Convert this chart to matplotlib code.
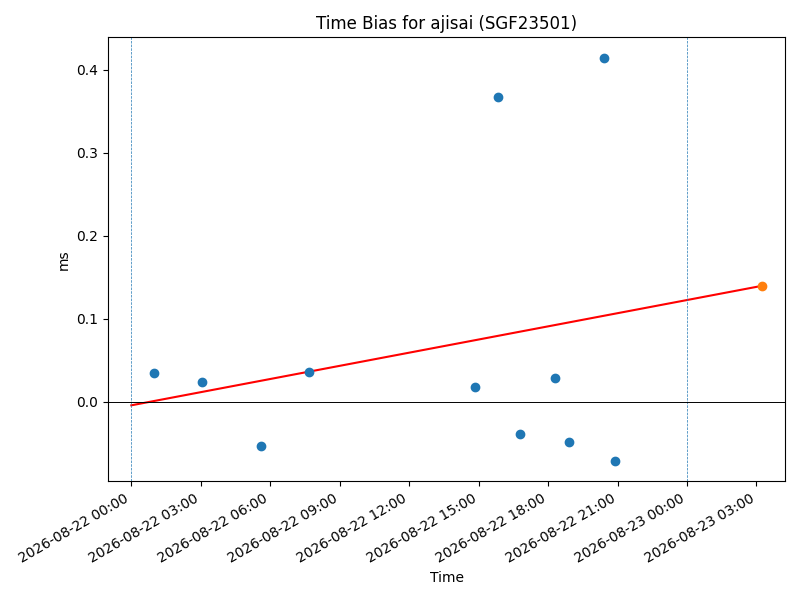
import matplotlib
matplotlib.use("Agg")
import matplotlib.pyplot as plt
import matplotlib.dates as mdates
import numpy as np
from datetime import datetime, timedelta

# Observed time bias samples (ms)
obs_times = [
    "2026-08-22 01:00", "2026-08-22 03:02", "2026-08-22 05:37", "2026-08-22 07:41",
    "2026-08-22 14:50", "2026-08-22 15:50", "2026-08-22 16:47", "2026-08-22 18:17",
    "2026-08-22 18:54", "2026-08-22 20:25", "2026-08-22 20:53",
]
obs_bias = [0.035, 0.024, -0.054, 0.036, 0.017, 0.367, -0.0385, 0.029, -0.049, 0.415, -0.072]

# Linear fit end points and the predicted value
fit_times = ["2026-08-22 00:00", "2026-08-23 03:14"]
fit_bias = [-0.0045, 0.1396]
pred_time = "2026-08-23 03:14"
pred_bias = 0.1396

# Day boundaries
day_marks = ["2026-08-22 00:00", "2026-08-23 00:00"]

fmt = "%Y-%m-%d %H:%M"
t_obs = [datetime.strptime(s, fmt) for s in obs_times]
t_fit = [datetime.strptime(s, fmt) for s in fit_times]
t_pred = datetime.strptime(pred_time, fmt)
t_days = [datetime.strptime(s, fmt) for s in day_marks]

fig, ax = plt.subplots(figsize=(8, 6), dpi=100)

ax.scatter(t_obs, obs_bias, color="C0", zorder=3)
ax.plot(t_fit, fit_bias, color="red", linewidth=1.5)
ax.scatter([t_pred], [pred_bias], color="C1", zorder=3)

for d in t_days:
    ax.axvline(d, color="C0", linestyle="--", linewidth=0.5)
ax.axhline(0, color="black", linewidth=0.7)

ax.set_xlim(t_fit[0] - timedelta(hours=1), t_pred + timedelta(hours=1))
ax.xaxis.set_major_locator(mdates.HourLocator(byhour=range(0, 24, 3)))
ax.xaxis.set_major_formatter(mdates.DateFormatter("%Y-%m-%d %H:%M"))

ax.set_title("Time Bias for ajisai (SGF23501)")
ax.set_xlabel("Time")
ax.set_ylabel("ms")

fig.autofmt_xdate()
plt.tight_layout()
plt.savefig("out.png", dpi=100)
